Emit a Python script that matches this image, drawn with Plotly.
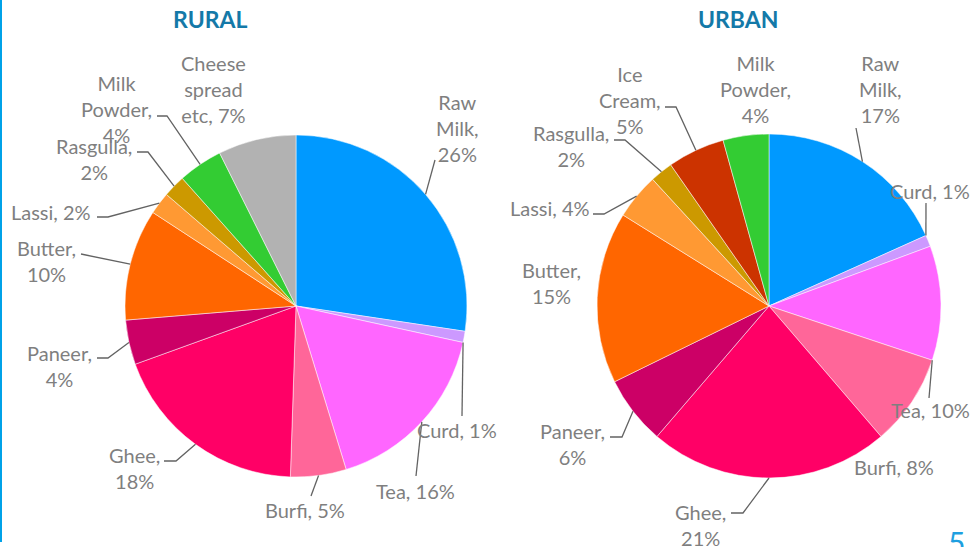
import math
import plotly.graph_objects as go

# ---- data ----
rural_labels = ["Raw Milk", "Curd", "Tea", "Burfi", "Ghee", "Paneer", "Butter",
                "Lassi", "Rasgulla", "Milk Powder", "Cheese spread etc"]
rural_values = [26, 1, 16, 5, 18, 4, 10, 2, 2, 4, 7]

urban_labels = ["Raw Milk", "Curd", "Tea", "Burfi", "Ghee", "Paneer", "Butter",
                "Lassi", "Rasgulla", "Ice Cream", "Milk Powder"]
urban_values = [17, 1, 10, 8, 21, 6, 15, 4, 2, 5, 4]

chart_titles = ["RURAL", "URBAN"]
slide_number = "5"

# ---- styles ----
W, H = 974, 547
color_map = {
    "Raw Milk": "#0099FF", "Curd": "#CC99FF", "Tea": "#FF66FF", "Burfi": "#FF6699",
    "Ghee": "#FF0066", "Paneer": "#CC0066", "Butter": "#FF6600", "Lassi": "#FF9933",
    "Rasgulla": "#CC9900", "Milk Powder": "#33CC33", "Cheese spread etc": "#B2B2B2",
    "Ice Cream": "#CC3300",
}
wrap_map = {
    "Raw Milk": "Raw<br>Milk,<br>{v}%",
    "Curd": "Curd, {v}%",
    "Tea": "Tea, {v}%",
    "Burfi": "Burfi, {v}%",
    "Ghee": "Ghee,<br>{v}%",
    "Paneer": "Paneer,<br>{v}%",
    "Butter": "Butter,<br>{v}%",
    "Lassi": "Lassi, {v}%",
    "Rasgulla": "Rasgulla,<br>{v}%",
    "Milk Powder": "Milk<br>Powder,<br>{v}%",
    "Cheese spread etc": "Cheese<br>spread<br>etc, {v}%",
    "Ice Cream": "Ice<br>Cream,<br>{v}%",
}

# pie geometry in pixels: center x, center y, radius
pie_geom = [(296, 306, 171), (769, 306, 172)]
title_x = [210, 738]

# label placement (pixel text centre), leader attach fraction within slice, leader elbow points
rural_label_style = {
    "Raw Milk": dict(pos=(457, 128), attach=0.5, elbow=[(435, 160)]),
    "Curd": dict(pos=(457, 430), attach=1.0, elbow=[(462, 416)]),
    "Tea": dict(pos=(415, 491), attach=0.5, elbow=[(416, 476)]),
    "Burfi": dict(pos=(305, 510), attach=0.5, elbow=[(311, 496)]),
    "Ghee": dict(pos=(134, 468), attach=0.5, elbow=[(176, 461), (164, 461)]),
    "Paneer": dict(pos=(59, 366), attach=0.5, elbow=[(108, 358), (97, 358)]),
    "Butter": dict(pos=(46, 261), attach=0.5, elbow=[(81, 254)]),
    "Lassi": dict(pos=(51, 212), attach=0.5, elbow=[(108, 217), (97, 217)]),
    "Rasgulla": dict(pos=(94, 159), attach=0.5, elbow=[(148, 152), (137, 152)]),
    "Milk Powder": dict(pos=(116, 109), attach=0.5, elbow=[(167, 116), (157, 116)]),
    "Cheese spread etc": dict(pos=(213, 89), attach=None, elbow=[]),
}
urban_label_style = {
    "Raw Milk": dict(pos=(880, 89), attach=0.5, elbow=[(856, 128)]),
    "Curd": dict(pos=(930, 191), attach=0.0, elbow=[(926, 203)]),
    "Tea": dict(pos=(930, 410), attach=1.0, elbow=[(929, 398)]),
    "Burfi": dict(pos=(894, 467), attach=None, elbow=[]),
    "Ghee": dict(pos=(700, 525), attach=0.5, elbow=[(743, 513), (731, 513)]),
    "Paneer": dict(pos=(572, 444), attach=0.5, elbow=[(622, 437), (610, 437)]),
    "Butter": dict(pos=(551, 283), attach=None, elbow=[]),
    "Lassi": dict(pos=(550, 208), attach=0.5, elbow=[(604, 214), (593, 214)]),
    "Rasgulla": dict(pos=(571, 146), attach=0.5, elbow=[(625, 140), (614, 140)]),
    "Ice Cream": dict(pos=(630, 100), attach=0.5, elbow=[(676, 107), (665, 107)]),
    "Milk Powder": dict(pos=(755, 89), attach=None, elbow=[]),
}

label_font = dict(family="Lato, 'Open Sans', sans-serif", size=20, color="#7F7F7F")
title_font = dict(family="Lato, 'Open Sans', sans-serif", size=23, color="#1479A8")
leader_color = "#636363"


def px(x, y):
    return x / W, 1 - y / H


fig = go.Figure()

charts = [(rural_labels, rural_values, rural_label_style),
          (urban_labels, urban_values, urban_label_style)]

for ci, (labels, values, lstyle) in enumerate(charts):
    cx, cy, r = pie_geom[ci]
    fig.add_trace(go.Pie(
        labels=labels, values=values, sort=False, direction="clockwise", rotation=0,
        marker=dict(colors=[color_map[l] for l in labels], line=dict(color="white", width=0.5)),
        textinfo="none", showlegend=False, hoverinfo="label+value",
        domain=dict(x=[(cx - r) / W, (cx + r) / W], y=[1 - (cy + r) / H, 1 - (cy - r) / H]),
    ))
    total = float(sum(values))
    cum = 0.0
    for lab, val in zip(labels, values):
        st = lstyle[lab]
        start_a = cum / total * 360
        cum += val
        end_a = cum / total * 360
        tx, ty = px(*st["pos"])
        fig.add_annotation(text=wrap_map[lab].format(v=val), x=tx, y=ty, xref="paper", yref="paper",
                           showarrow=False, font=label_font, xanchor="center", yanchor="middle",
                           align="center")
        if st["attach"] is not None:
            a = math.radians(start_a + (end_a - start_a) * st["attach"])
            ex, ey = cx + r * math.sin(a), cy - r * math.cos(a)
            pts = [(ex, ey)] + st["elbow"]
            path = "M " + " L ".join(f"{p[0] / W:.5f},{1 - p[1] / H:.5f}" for p in pts)
            fig.add_shape(type="path", path=path, xref="paper", yref="paper",
                          line=dict(color=leader_color, width=1.3))
    txx, tyy = px(title_x[ci], 19.5)
    fig.add_annotation(text=f"<b>{chart_titles[ci]}</b>", x=txx, y=tyy, xref="paper", yref="paper",
                       showarrow=False, font=title_font, xanchor="center", yanchor="middle")

sx, sy = px(967, 522)
fig.add_annotation(text=slide_number, x=sx, y=sy, xref="paper", yref="paper",
                   showarrow=False, font=dict(family="Lato, sans-serif", size=30, color="#1E9FE0"),
                   xanchor="right", yanchor="top")
fig.add_shape(type="line", xref="paper", yref="paper", x0=1 / W, x1=1 / W,
              y0=1 - 542 / H, y1=1, line=dict(color="#00A2E8", width=2))

fig.update_layout(width=W, height=H, margin=dict(l=0, r=0, t=0, b=0),
                  paper_bgcolor="white", plot_bgcolor="white")
fig.write_html("out.html", config={"displayModeBar": False},
               post_script="document.body.style.margin='0';document.body.style.overflow='hidden';")
